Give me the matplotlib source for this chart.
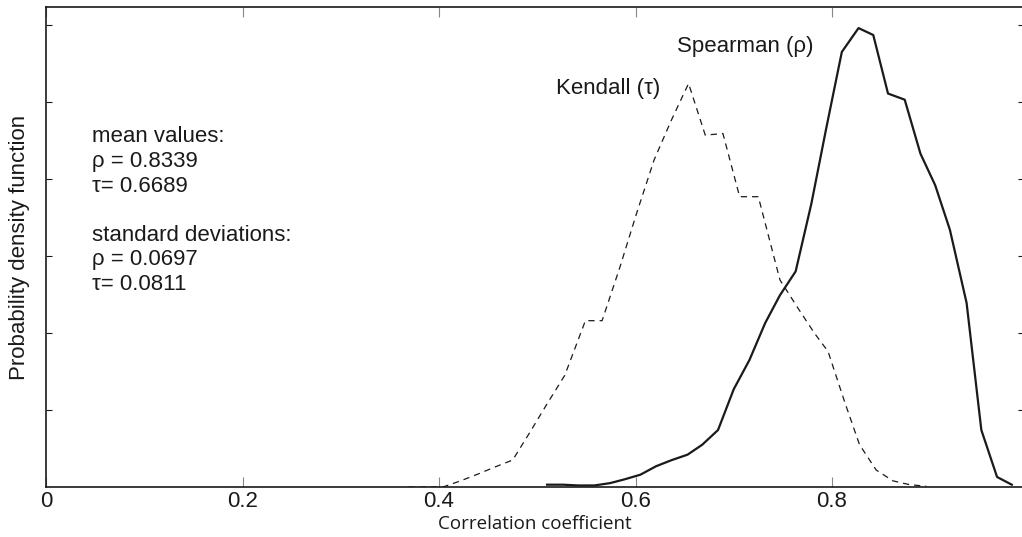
import numpy as np
import matplotlib.pyplot as plt

# Kendall's tau distribution (dashed)
kendall_x = [0.369, 0.387, 0.404, 0.422, 0.440, 0.457, 0.475, 0.492, 0.510, 0.528,
             0.549, 0.566, 0.584, 0.601, 0.619, 0.636, 0.654, 0.671, 0.689, 0.706,
             0.725, 0.747, 0.765, 0.782, 0.796, 0.813, 0.828, 0.845, 0.862, 0.879, 0.896]
kendall_y = [0.00, 0.00, 0.00, 0.08, 0.17, 0.26, 0.35, 0.70, 1.08, 1.45,
             2.16, 2.16, 2.85, 3.55, 4.25, 4.75, 5.24, 4.57, 4.59, 3.77,
             3.77, 2.69, 2.33, 2.00, 1.76, 1.10, 0.55, 0.22, 0.08, 0.03, 0.01]

# Spearman's rho distribution (solid)
spearman_x = [0.510, 0.526, 0.542, 0.558, 0.574, 0.589, 0.605, 0.621, 0.637, 0.653,
              0.668, 0.684, 0.700, 0.716, 0.732, 0.747, 0.763, 0.779, 0.794, 0.810,
              0.827, 0.842, 0.857, 0.874, 0.890, 0.905, 0.920, 0.937, 0.952, 0.968, 0.983]
spearman_y = [0.03, 0.03, 0.02, 0.02, 0.05, 0.10, 0.16, 0.27, 0.35, 0.42,
              0.55, 0.74, 1.27, 1.65, 2.13, 2.49, 2.80, 3.68, 4.65, 5.65,
              5.96, 5.87, 5.11, 5.03, 4.33, 3.92, 3.34, 2.39, 0.74, 0.13, 0.03]

x_ticks = [0, 0.2, 0.4, 0.6, 0.8]
x_tick_labels = ["0", "0.2", "0.4", "0.6", "0.8"]
y_ticks = [1, 2, 3, 4, 5, 6]

stats_lines = ["mean values:", "\u03c1 = 0.8339", "\u03c4= 0.6689", "",
               "standard deviations:", "\u03c1 = 0.0697", "\u03c4= 0.0811"]

plt.rcParams['font.family'] = ['Liberation Sans', 'DejaVu Sans']
ink = "#1a1a1a"

fig = plt.figure(figsize=(10.22, 5.37), dpi=100)
W, H = 1022, 537
ax = fig.add_axes([46 / W, (H - 487) / H, (1024 - 46) / W, 480 / H])

ax.plot(kendall_x, kendall_y, color=ink, lw=0.9, linestyle=(0, (5, 4)))
ax.plot(spearman_x, spearman_y, color=ink, lw=1.6)

ax.set_xlim(0, (1024 - 46) / 982.5)
ax.set_ylim(0, 480 / 77)
ax.set_xticks(x_ticks)
ax.set_xticklabels(x_tick_labels)
ax.set_yticks(y_ticks)
ax.set_yticklabels([])
ax.tick_params(axis="x", direction="in", length=7, width=0.8, colors="#888888",
               labelsize=16, pad=3, top=True)
ax.tick_params(axis="y", direction="in", length=4, width=0.8, colors=ink, right=True)
for lab in ax.get_xticklabels():
    lab.set_color(ink)
for s in ax.spines.values():
    s.set_color(ink)
    s.set_linewidth(1.2)

ax.set_ylabel("Probability density function", fontsize=16, color=ink, labelpad=8)
ax.set_xlabel("Correlation coefficient", fontsize=13.5, color=ink,
              family=["Open Sans", "DejaVu Sans"], labelpad=2)

ax.text(0.625, 5.17, "Kendall (\u03c4)", fontsize=16, color=ink, ha="right", va="center")
ax.text(0.781, 5.72, "Spearman (\u03c1)", fontsize=16, color=ink, ha="right", va="center")

for i, line in enumerate(stats_lines):
    ax.text(0.0468, (487 - 137 - i * 24.6) / 77, line, fontsize=16, color=ink,
            ha="left", va="center")

fig.savefig("out.png", dpi=100)
